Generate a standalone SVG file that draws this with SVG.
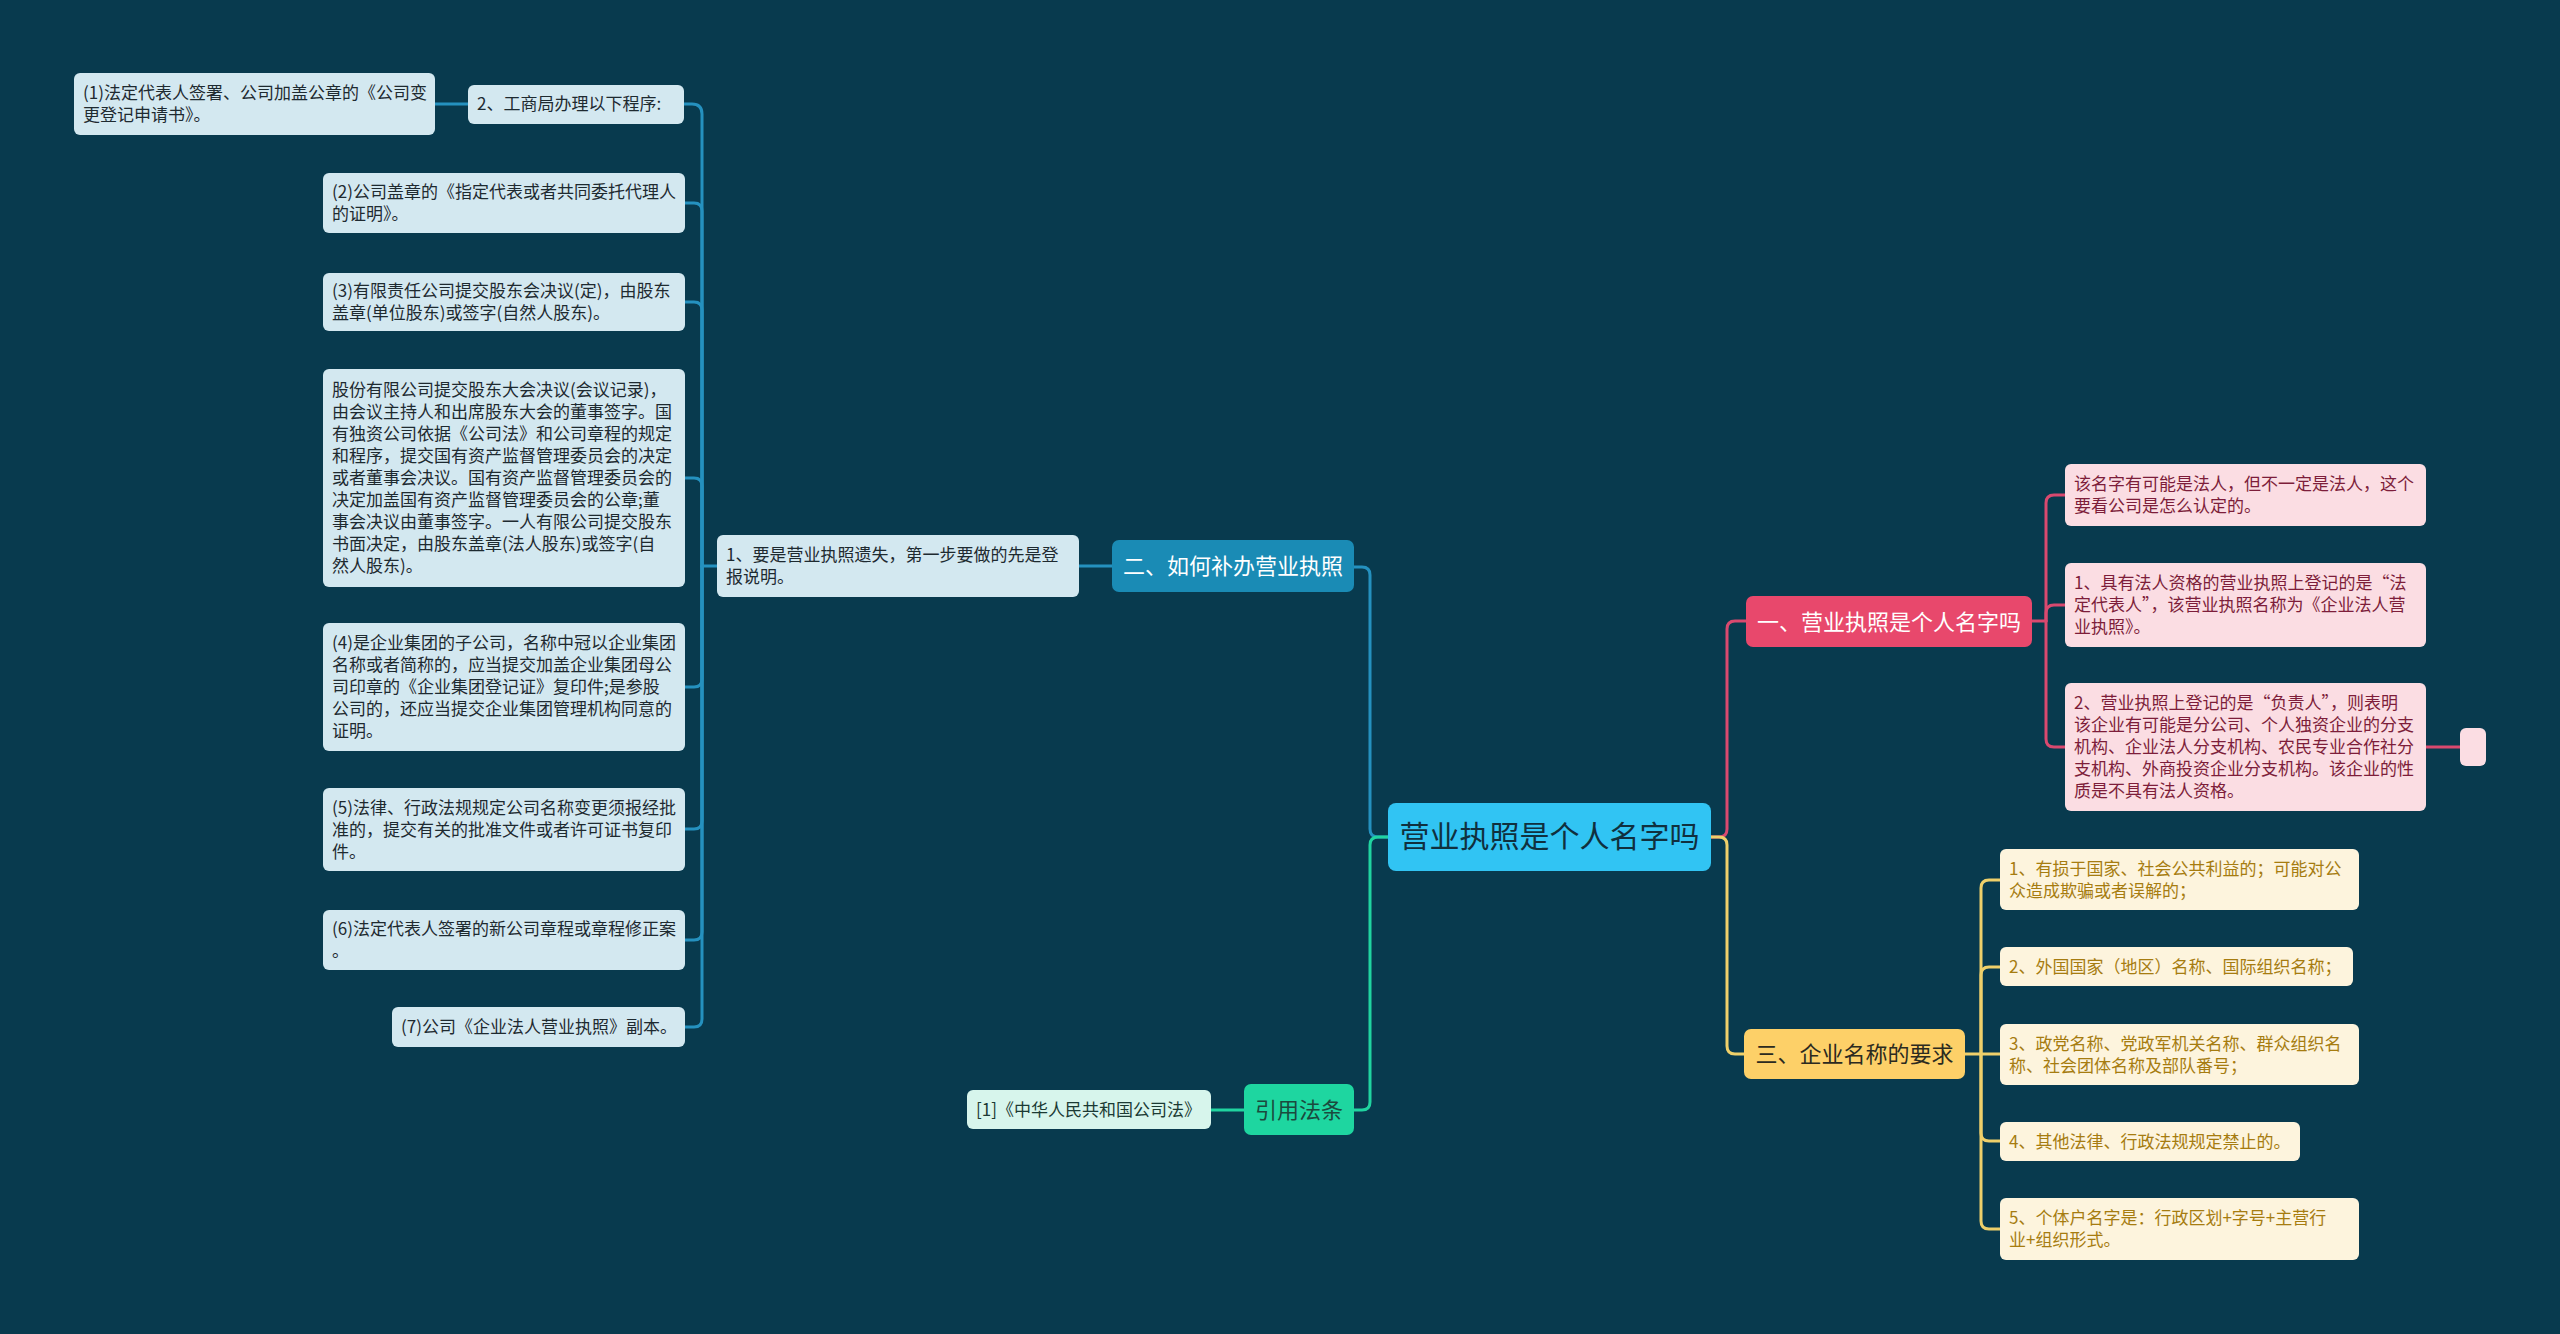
<svg xmlns="http://www.w3.org/2000/svg" width="2560" height="1334" viewBox="0 0 2560 1334">
<style>
text{font-family:"Noto Sans CJK SC","Noto Sans",sans-serif;}
.lf{font-size:17px;}
.br{font-size:22px;}
.c{fill:none;stroke-width:3;stroke-linecap:round;}
.cb{stroke:#2591bf;}
.cp{stroke:#d9496f;}
.cy{stroke:#efd06a;}
.cg{stroke:#20d4a0;}
.nb rect{fill:#d3e8f0;} .nb text{fill:#1e2a30;}
.np rect{fill:#fbdde3;} .np text{fill:#7d1d3a;}
.ny rect{fill:#fdf4dd;} .ny text{fill:#a67c10;}
</style>
<rect x="0" y="0" width="2560" height="1334" fill="#083a4e"/>
<g id="connectors">
<path class="c cb" d="M1388,837 H1378 Q1370,837 1370,829 V575 Q1370,567 1362,567 H1354"/>
<path class="c cg" d="M1388,837 H1378 Q1370,837 1370,845 V1102 Q1370,1110 1362,1110 H1354"/>
<path class="c cp" d="M1711,837 H1719 Q1727,837 1727,829 V629 Q1727,621 1735,621 H1746"/>
<path class="c cy" d="M1711,837 H1719 Q1727,837 1727,845 V1046 Q1727,1054 1735,1054 H1744"/>
<path class="c cb" d="M1112,566 H1079"/>
<path class="c cb" d="M717,566 H702"/>
<path class="c cb" d="M702,566 V114 Q702,104 692,104 H684"/>
<path class="c cb" d="M702,566 V211 Q702,203 694,203 H685"/>
<path class="c cb" d="M702,566 V310 Q702,302 694,302 H685"/>
<path class="c cb" d="M702,566 V486 Q702,478 694,478 H685"/>
<path class="c cb" d="M702,566 V679 Q702,687 694,687 H685"/>
<path class="c cb" d="M702,566 V821 Q702,829 694,829 H685"/>
<path class="c cb" d="M702,566 V932 Q702,940 694,940 H685"/>
<path class="c cb" d="M702,566 V1019 Q702,1027 694,1027 H685"/>
<path class="c cb" d="M468,104 H435"/>
<path class="c cg" d="M1244,1110 H1211"/>
<path class="c cp" d="M2032,621 H2046"/>
<path class="c cp" d="M2046,621 V503 Q2046,495 2054,495 H2065"/>
<path class="c cp" d="M2046,621 V613 Q2046,605 2054,605 H2065"/>
<path class="c cp" d="M2046,621 V739 Q2046,747 2054,747 H2065"/>
<path class="c cp" d="M2426,747 H2460"/>
<path class="c cy" d="M1965,1054 H1981"/>
<path class="c cy" d="M1981,1054 V888 Q1981,880 1989,880 H2000"/>
<path class="c cy" d="M1981,1054 V975 Q1981,967 1989,967 H2000"/>
<path class="c cy" d="M1981,1054 H2000"/>
<path class="c cy" d="M1981,1054 V1133 Q1981,1141 1989,1141 H2000"/>
<path class="c cy" d="M1981,1054 V1221 Q1981,1229 1989,1229 H2000"/>
</g>
<g id="root"><rect x="1388" y="803" width="323" height="68" rx="8" fill="#31c4f3"/><text x="1549.5" y="847" font-size="30" text-anchor="middle" fill="#10303e">营业执照是个人名字吗</text></g>
<g id="b1"><rect x="1746" y="596" width="286" height="51" rx="7" fill="#e8486c"/><text class="br" x="1889" y="629.5" text-anchor="middle" fill="#ffffff">一、营业执照是个人名字吗</text></g>
<g id="b2"><rect x="1112" y="540" width="242" height="52" rx="7" fill="#1a8bb5"/><text class="br" x="1233" y="574" text-anchor="middle" fill="#ffffff">二、如何补办营业执照</text></g>
<g id="b3"><rect x="1744" y="1029" width="221" height="50" rx="7" fill="#fdd068"/><text class="br" x="1854.5" y="1062" text-anchor="middle" fill="#2b2a20">三、企业名称的要求</text></g>
<g id="b4"><rect x="1244" y="1084" width="110" height="51" rx="7" fill="#1ed6a0"/><text class="br" x="1299" y="1118" text-anchor="middle" fill="#1b4a3e">引用法条</text></g>
<g id="ref1"><rect x="967" y="1090" width="244" height="39" rx="6" fill="#d7f5ec"/><text class="lf" x="976" y="1116" fill="#1b3a34">[1]《中华人民共和国公司法》</text></g>
<g id="l1" class="nb"><rect x="717" y="535" width="362" height="62" rx="6"/><text class="lf"><tspan x="726" y="561">1、要是营业执照遗失，第一步要做的先是登</tspan><tspan x="726" y="583">报说明。</tspan></text></g>
<g id="l2" class="nb"><rect x="468" y="85" width="216" height="39" rx="6"/><text class="lf" x="477" y="110">2、工商局办理以下程序:</text></g>
<g id="s1" class="nb"><rect x="74" y="73" width="361" height="62" rx="6"/><text class="lf"><tspan x="83" y="99">(1)法定代表人签署、公司加盖公章的《公司变</tspan><tspan x="83" y="121">更登记申请书》。</tspan></text></g>
<g id="s2" class="nb"><rect x="323" y="173" width="362" height="60" rx="6"/><text class="lf"><tspan x="332" y="198">(2)公司盖章的《指定代表或者共同委托代理人</tspan><tspan x="332" y="220">的证明》。</tspan></text></g>
<g id="s3" class="nb"><rect x="323" y="273" width="362" height="58" rx="6"/><text class="lf"><tspan x="332" y="297">(3)有限责任公司提交股东会决议(定)，由股东</tspan><tspan x="332" y="319">盖章(单位股东)或签字(自然人股东)。</tspan></text></g>
<g id="s4" class="nb"><rect x="323" y="369" width="362" height="218" rx="6"/><text class="lf"><tspan x="332" y="396">股份有限公司提交股东大会决议(会议记录)，</tspan><tspan x="332" y="418">由会议主持人和出席股东大会的董事签字。国</tspan><tspan x="332" y="440">有独资公司依据《公司法》和公司章程的规定</tspan><tspan x="332" y="462">和程序，提交国有资产监督管理委员会的决定</tspan><tspan x="332" y="484">或者董事会决议。国有资产监督管理委员会的</tspan><tspan x="332" y="506">决定加盖国有资产监督管理委员会的公章;董</tspan><tspan x="332" y="528">事会决议由董事签字。一人有限公司提交股东</tspan><tspan x="332" y="550">书面决定，由股东盖章(法人股东)或签字(自</tspan><tspan x="332" y="572">然人股东)。</tspan></text></g>
<g id="s5" class="nb"><rect x="323" y="623" width="362" height="128" rx="6"/><text class="lf"><tspan x="332" y="649">(4)是企业集团的子公司，名称中冠以企业集团</tspan><tspan x="332" y="671">名称或者简称的，应当提交加盖企业集团母公</tspan><tspan x="332" y="693">司印章的《企业集团登记证》复印件;是参股</tspan><tspan x="332" y="715">公司的，还应当提交企业集团管理机构同意的</tspan><tspan x="332" y="737">证明。</tspan></text></g>
<g id="s6" class="nb"><rect x="323" y="788" width="362" height="83" rx="6"/><text class="lf"><tspan x="332" y="813.5">(5)法律、行政法规规定公司名称变更须报经批</tspan><tspan x="332" y="835.5">准的，提交有关的批准文件或者许可证书复印</tspan><tspan x="332" y="857.5">件。</tspan></text></g>
<g id="s7" class="nb"><rect x="323" y="910" width="362" height="60" rx="6"/><text class="lf"><tspan x="332" y="935">(6)法定代表人签署的新公司章程或章程修正案</tspan><tspan x="332" y="957">。</tspan></text></g>
<g id="s8" class="nb"><rect x="392" y="1007" width="293" height="40" rx="6"/><text class="lf" x="401" y="1033">(7)公司《企业法人营业执照》副本。</text></g>
<g id="p1" class="np"><rect x="2065" y="464" width="361" height="62" rx="6"/><text class="lf"><tspan x="2074" y="490">该名字有可能是法人，但不一定是法人，这个</tspan><tspan x="2074" y="512">要看公司是怎么认定的。</tspan></text></g>
<g id="p2" class="np"><rect x="2065" y="563" width="361" height="84" rx="6"/><text class="lf"><tspan x="2074" y="589">1、具有法人资格的营业执照上登记的是“法</tspan><tspan x="2074" y="611">定代表人”，该营业执照名称为《企业法人营</tspan><tspan x="2074" y="633">业执照》。</tspan></text></g>
<g id="p3" class="np"><rect x="2065" y="683" width="361" height="128" rx="6"/><text class="lf"><tspan x="2074" y="709">2、营业执照上登记的是“负责人”，则表明</tspan><tspan x="2074" y="731">该企业有可能是分公司、个人独资企业的分支</tspan><tspan x="2074" y="753">机构、企业法人分支机构、农民专业合作社分</tspan><tspan x="2074" y="775">支机构、外商投资企业分支机构。该企业的性</tspan><tspan x="2074" y="797">质是不具有法人资格。</tspan></text></g>
<g id="p4" class="np"><rect x="2460" y="728" width="26" height="38" rx="6"/></g>
<g id="y1" class="ny"><rect x="2000" y="849" width="359" height="61" rx="6"/><text class="lf"><tspan x="2009" y="874.5">1、有损于国家、社会公共利益的；可能对公</tspan><tspan x="2009" y="896.5">众造成欺骗或者误解的；</tspan></text></g>
<g id="y2" class="ny"><rect x="2000" y="947" width="353" height="39" rx="6"/><text class="lf" x="2009" y="972.5">2、外国国家（地区）名称、国际组织名称；</text></g>
<g id="y3" class="ny"><rect x="2000" y="1024" width="359" height="61" rx="6"/><text class="lf"><tspan x="2009" y="1049.5">3、政党名称、党政军机关名称、群众组织名</tspan><tspan x="2009" y="1071.5">称、社会团体名称及部队番号；</tspan></text></g>
<g id="y4" class="ny"><rect x="2000" y="1122" width="300" height="39" rx="6"/><text class="lf" x="2009" y="1147.5">4、其他法律、行政法规规定禁止的。</text></g>
<g id="y5" class="ny"><rect x="2000" y="1198" width="359" height="62" rx="6"/><text class="lf"><tspan x="2009" y="1224">5、个体户名字是：行政区划+字号+主营行</tspan><tspan x="2009" y="1246">业+组织形式。</tspan></text></g>
</svg>
